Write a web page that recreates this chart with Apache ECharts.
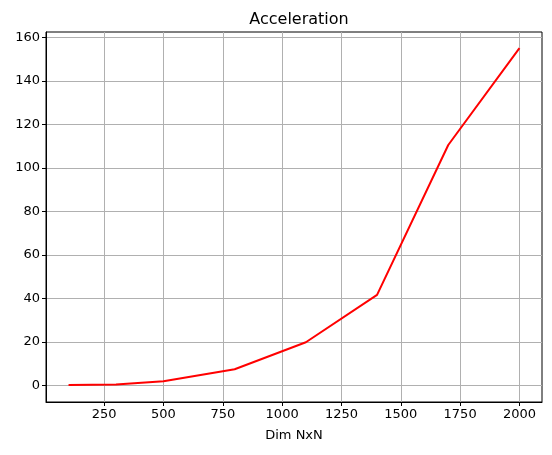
<!DOCTYPE html>
<html lang="en">
<head>
    <meta charset="UTF-8">
    <title>Acceleration</title>
    <script src="https://cdn.jsdelivr.net/npm/echarts@6/dist/echarts.min.js"></script>
    <style>
        html, body { margin: 0; padding: 0; background: #fff; }
        #main { width: 552px; height: 455px; }
    </style>
</head>
<body>
<div id="main"></div>
<script>
    // data
    const dims = [100, 300, 500, 800, 1100, 1400, 1700, 2000];
    const acceleration = [0.1, 0.4, 1.9, 7.4, 19.8, 41.6, 110.6, 155.2];
    const xTicks = [250, 500, 750, 1000, 1250, 1500, 1750, 2000];
    const yTicks = [0, 20, 40, 60, 80, 100, 120, 140, 160];

    const font = 'DejaVu Sans';
    let myChart = echarts.init(document.getElementById('main'));

    myChart.setOption({
        animation: false,
        title: {
            text: 'Acceleration',
            left: 294,
            top: 7,
            textAlign: 'center',
            textStyle: { fontFamily: font, fontSize: 16, fontWeight: 'normal', color: '#000' }
        },
        grid: {
            left: 46, right: 10, top: 32, bottom: 53,
            show: true, borderColor: '#000', borderWidth: 1
        },
        xAxis: {
            type: 'value',
            min: 5, max: 2095,
            name: 'Dim NxN',
            nameLocation: 'middle',
            nameGap: 27,
            nameTextStyle: { fontFamily: font, fontSize: 13, color: '#000' },
            axisLine: { show: true, onZero: false, lineStyle: { color: '#000', width: 1 } },
            axisTick: { show: true, length: 4, customValues: xTicks, lineStyle: { color: '#000' } },
            axisLabel: { fontFamily: font, fontSize: 13, color: '#000', margin: 6, customValues: xTicks,
                formatter: v => String(v) },
            splitLine: { show: true, lineStyle: { color: '#b0b0b0', width: 1 } }
        },
        yAxis: {
            type: 'value',
            min: -7.7, max: 162.6,
            axisLine: { show: true, onZero: false, lineStyle: { color: '#000', width: 1 } },
            axisTick: { show: true, length: 4, customValues: yTicks, lineStyle: { color: '#000' } },
            axisLabel: { fontFamily: font, fontSize: 13, color: '#000', margin: 6, customValues: yTicks,
                formatter: v => String(v) },
            splitLine: { show: true, lineStyle: { color: '#b0b0b0', width: 1 } }
        },
        series: [{
            type: 'line',
            data: dims.map((d, i) => [d, acceleration[i]]),
            showSymbol: false,
            lineStyle: { color: '#ff0000', width: 2 },
            itemStyle: { color: '#ff0000' }
        }]
    });
</script>
</body>
</html>
